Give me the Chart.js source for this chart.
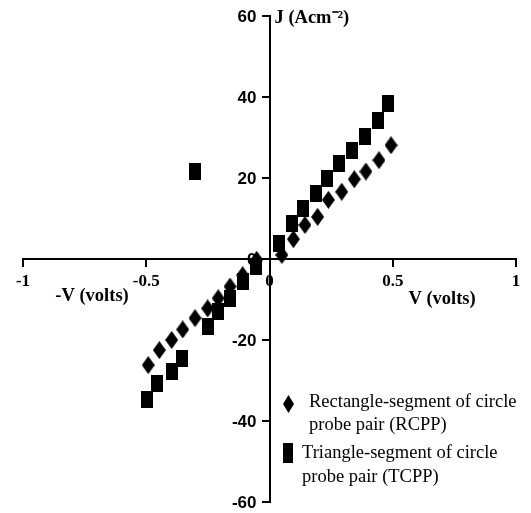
<!DOCTYPE html>
<html>
<head>
<meta charset="utf-8">
<script src="https://cdn.jsdelivr.net/npm/chart.js@4"></script>
<style>
  html, body { margin: 0; padding: 0; background: #fff; }
  #wrap { width: 531px; height: 513px; }
</style>
</head>
<body>
<div id="wrap"><canvas id="chart"></canvas></div>
<script>
'use strict';

// Rectangle-segment of circle probe pair (RCPP)
const rcppV = [-0.492, -0.447, -0.397, -0.352, -0.302, -0.251, -0.208, -0.16, -0.109, -0.052,
               0.05, 0.097, 0.144, 0.195, 0.239, 0.293, 0.344, 0.391, 0.444, 0.493];
const rcppJ = [-26.2, -22.5, -20.0, -17.4, -14.6, -12.2, -9.7, -6.8, -4.0, -0.2,
               1.0, 4.9, 8.4, 10.4, 14.6, 16.6, 19.7, 21.6, 24.4, 28.1];

// Triangle-segment of circle probe pair (TCPP)
const tcppV = [-0.496, -0.458, -0.397, -0.356, -0.302, -0.251, -0.208, -0.16, -0.109, -0.055,
               0.038, 0.09, 0.137, 0.19, 0.232, 0.283, 0.336, 0.387, 0.441, 0.482];
const tcppJ = [-34.8, -30.7, -27.8, -24.5, 21.7, -16.7, -13.0, -9.7, -5.6, -1.9,
               3.9, 8.8, 12.5, 16.2, 19.9, 23.6, 26.9, 30.2, 34.3, 38.4];

const xTicks = [-1, -0.5, 0, 0.5, 1];
const yTicks = [-60, -40, -20, 0, 20, 40, 60];

const legendLines = [
    ['Rectangle-segment of circle', 'probe pair (RCPP)'],
    ['Triangle-segment of circle', 'probe pair (TCPP)']
];

function toPoints(xs, ys) {
    return xs.map((x, i) => ({ x: x, y: ys[i] }));
}

// marker images
function diamondImg(w, h) {
    const c = document.createElement('canvas');
    c.width = w; c.height = h;
    const g = c.getContext('2d');
    g.fillStyle = '#000';
    g.beginPath();
    g.moveTo(w / 2, 0); g.lineTo(w, h / 2); g.lineTo(w / 2, h); g.lineTo(0, h / 2);
    g.closePath(); g.fill();
    return c;
}
function squareImg(w, h) {
    const c = document.createElement('canvas');
    c.width = w; c.height = h;
    const g = c.getContext('2d');
    g.fillStyle = '#000';
    g.fillRect(0, 0, w, h);
    return c;
}
const diamond = diamondImg(13, 18);
const square = squareImg(12, 17);

const serif = '"Liberation Serif", "Times New Roman", serif';
const sans = '"Liberation Sans", Arial, sans-serif';

// y tick labels, axis titles, legend
const annotations = {
    id: 'annotations',
    afterDraw(chart) {
        const ctx = chart.ctx;
        const xs = chart.scales.x, ys = chart.scales.y;
        const x0 = xs.getPixelForValue(0), y0 = ys.getPixelForValue(0);
        ctx.save();
        ctx.fillStyle = '#000';
        ctx.textBaseline = 'middle';

        // y tick labels sit left of the tick marks
        ctx.font = 'bold 17px ' + sans;
        ctx.textAlign = 'right';
        yTicks.forEach(v => ctx.fillText(String(v), x0 - 13, ys.getPixelForValue(v) + 1));

        ctx.font = 'bold 18.5px ' + serif;
        ctx.textAlign = 'center';
        ctx.fillText('-V (volts)', xs.getPixelForValue(-0.72), y0 + 37);
        ctx.fillText('V (volts)', xs.getPixelForValue(0.7), y0 + 40);
        ctx.textAlign = 'left';
        ctx.fillText('J (Acm\u207B\u00B2)', x0 + 5, ys.getPixelForValue(59.5));

        // legend
        ctx.font = '18.5px ' + serif;
        ctx.drawImage(diamondImg(11, 18), 283, 395);
        ctx.fillText(legendLines[0][0], 309, 402);
        ctx.fillText(legendLines[0][1], 309, 425);
        ctx.drawImage(squareImg(10, 20), 283, 443);
        ctx.fillText(legendLines[1][0], 302, 453);
        ctx.fillText(legendLines[1][1], 302, 477);
        ctx.restore();
    }
};

new Chart(document.getElementById('chart'), {
    type: 'scatter',
    data: {
        datasets: [
            {
                label: 'RCPP',
                data: toPoints(rcppV, rcppJ),
                pointStyle: diamond,
                backgroundColor: '#000',
                borderColor: '#000'
            },
            {
                label: 'TCPP',
                data: toPoints(tcppV, tcppJ),
                pointStyle: square,
                backgroundColor: '#000',
                borderColor: '#000'
            }
        ]
    },
    options: {
        responsive: true,
        maintainAspectRatio: false,
        animation: false,
        layout: {
            padding: { left: 23, right: 15, top: 16, bottom: 11 }
        },
        scales: {
            x: {
                type: 'linear',
                position: { y: 0 },
                min: -1,
                max: 1,
                afterBuildTicks: (axis) => { axis.ticks = xTicks.map(v => ({ value: v })); },
                border: { color: '#000', width: 2 },
                grid: { drawOnChartArea: false, drawTicks: true, tickLength: 7, color: '#000', lineWidth: 2 },
                ticks: {
                    color: '#000',
                    padding: 5,
                    maxRotation: 0,
                    autoSkip: false,
                    callback: (v) => String(v),
                    font: { family: serif, size: 17, weight: 'bold' }
                }
            },
            y: {
                type: 'linear',
                position: { x: 0 },
                min: -60,
                max: 60,
                afterBuildTicks: (axis) => { axis.ticks = yTicks.map(v => ({ value: v })); },
                border: { color: '#000', width: 2 },
                grid: { drawOnChartArea: false, drawTicks: true, tickLength: 7, color: '#000', lineWidth: 2 },
                ticks: { display: false }
            }
        },
        plugins: {
            legend: { display: false },
            tooltip: { enabled: false }
        }
    },
    plugins: [annotations]
});
</script>
</body>
</html>
